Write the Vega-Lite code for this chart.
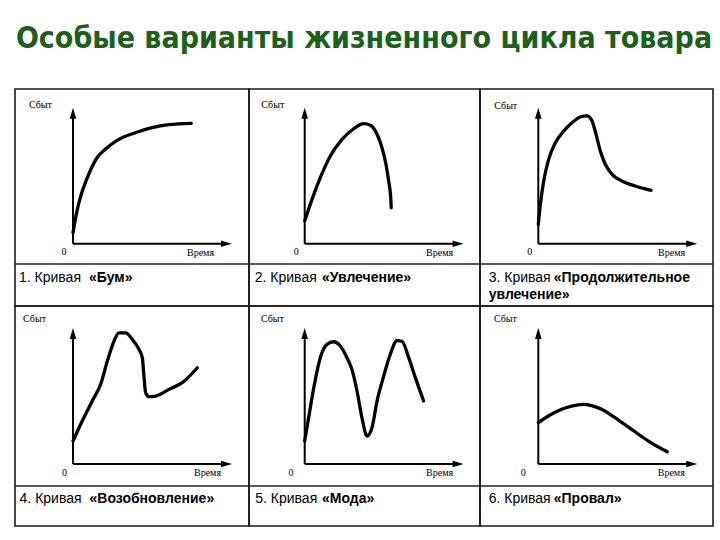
{
  "$schema": "https://vega.github.io/schema/vega-lite/v6.json",
  "padding": {"left": 13, "top": 24, "right": 9, "bottom": 15},
  "background": "#ffffff",
  "config": {"view": {"stroke": "#1a1a1a", "strokeWidth": 1.6}, "concat": {"spacing": 0}},
  "title": {"text": "Особые варианты жизненного цикла товара", "anchor": "middle", "font": "'Liberation Sans Narrow', 'DejaVu Sans Condensed', 'Liberation Sans', sans-serif", "fontSize": 30, "fontWeight": "bold", "color": "#1a621a", "offset": 34},
  "columns": 3,
  "spacing": 0,
  "bounds": "flush",
  "concat": [
    {
      "width": 234, "height": 217,
      "layer": [
        {"data": {"values": [{"t":0,"s":8.2},{"t":2.5,"s":24.1},{"t":5.2,"s":36.4},{"t":8.2,"s":46.2},{"t":15.1,"s":63.3},{"t":20.3,"s":69.5},{"t":27.7,"s":76.1},{"t":39.2,"s":81.7},{"t":49.7,"s":85.4},{"t":60.2,"s":87.6},{"t":74.4,"s":88.6}]},
         "mark": {"type": "line", "color": "#000", "strokeWidth": 3.3, "interpolate": "monotone", "strokeCap": "round"},
         "encoding": {"x": {"field": "t", "type": "quantitative", "scale": {"domain": [-36.48, 110.69], "nice": false, "zero": false}, "axis": null},
                      "y": {"field": "s", "type": "quantitative", "scale": {"domain": [-45.74, 113.82], "nice": false, "zero": false}, "axis": null}}},
        {"data": {"values": [{}]}, "mark": {"type": "rule", "color": "#000", "strokeWidth": 2}, "encoding": {"x": {"datum": 0}, "x2": {"datum": 96}, "y": {"datum": 0}}},
        {"data": {"values": [{}]}, "mark": {"type": "rule", "color": "#000", "strokeWidth": 2}, "encoding": {"x": {"datum": 0}, "y": {"datum": 0}, "y2": {"datum": 95}}},
        {"data": {"values": [{}]}, "mark": {"type": "point", "shape": "M0,-1L-0.6,1L0.6,1Z", "size": 121, "filled": true, "color": "#000", "opacity": 1}, "encoding": {"x": {"datum": 0}, "y": {"datum": 96}}},
        {"data": {"values": [{}]}, "mark": {"type": "point", "shape": "M1,0L-1,-0.6L-1,0.6Z", "size": 121, "filled": true, "color": "#000", "opacity": 1}, "encoding": {"x": {"datum": 96.5}, "y": {"datum": 0}}},
        {"data": {"values": [{}]}, "mark": {"type": "rule", "color": "#222", "strokeWidth": 1.6}, "encoding": {"y": {"datum": -14.85}}},
        {"data": {"values": [{}]}, "mark": {"type": "text", "text": "Сбыт", "font": "Liberation Serif", "fontSize": 10, "align": "left", "baseline": "middle", "color": "#000"}, "encoding": {"x": {"datum": -27.7}, "y": {"datum": 102}}},
        {"data": {"values": [{}]}, "mark": {"type": "text", "text": "0", "font": "Liberation Serif", "fontSize": 10, "align": "center", "baseline": "middle", "color": "#000"}, "encoding": {"x": {"datum": -5.7}, "y": {"datum": -6.2}}},
        {"data": {"values": [{}]}, "mark": {"type": "text", "text": "Время", "font": "Liberation Serif", "fontSize": 10, "align": "left", "baseline": "middle", "color": "#000"}, "encoding": {"x": {"datum": 71.7}, "y": {"datum": -6.8}}},
        {"data": {"values": [{}]}, "mark": {"type": "text", "text": "1. Кривая", "font": "Liberation Sans", "fontSize": 14, "align": "left", "baseline": "middle", "color": "#000"}, "encoding": {"x": {"datum": -33.96}, "y": {"datum": -24.9}}},
        {"data": {"values": [{}]}, "mark": {"type": "text", "text": "«Бум»", "font": "Liberation Sans", "fontSize": 14, "fontWeight": "bold", "align": "left", "baseline": "middle", "color": "#000"}, "encoding": {"x": {"datum": 10.1}, "y": {"datum": -24.9}}}
      ]
    },
    {
      "width": 231, "height": 217,
      "layer": [
        {"data": {"values": [{"t":0,"s":16.8},{"t":4.6,"s":32.7},{"t":9.8,"s":48.6},{"t":16.1,"s":64.6},{"t":23.5,"s":76.8},{"t":30.8,"s":84.6},{"t":37.1,"s":88.3},{"t":41.3,"s":87.1},{"t":45.5,"s":80.5},{"t":48.6,"s":70.7},{"t":51.1,"s":58.5},{"t":52.8,"s":46.2},{"t":54.1,"s":33.9},{"t":54.4,"s":26.5}]},
         "mark": {"type": "line", "color": "#000", "strokeWidth": 3.3, "interpolate": "monotone", "strokeCap": "round"},
         "encoding": {"x": {"field": "t", "type": "quantitative", "scale": {"domain": [-35.03, 110.25], "nice": false, "zero": false}, "axis": null},
                      "y": {"field": "s", "type": "quantitative", "scale": {"domain": [-45.74, 113.82], "nice": false, "zero": false}, "axis": null}}},
        {"data": {"values": [{}]}, "mark": {"type": "rule", "color": "#000", "strokeWidth": 2}, "encoding": {"x": {"datum": 0}, "x2": {"datum": 96}, "y": {"datum": 0}}},
        {"data": {"values": [{}]}, "mark": {"type": "rule", "color": "#000", "strokeWidth": 2}, "encoding": {"x": {"datum": 0}, "y": {"datum": 0}, "y2": {"datum": 95}}},
        {"data": {"values": [{}]}, "mark": {"type": "point", "shape": "M0,-1L-0.6,1L0.6,1Z", "size": 121, "filled": true, "color": "#000", "opacity": 1}, "encoding": {"x": {"datum": 0}, "y": {"datum": 96}}},
        {"data": {"values": [{}]}, "mark": {"type": "point", "shape": "M1,0L-1,-0.6L-1,0.6Z", "size": 121, "filled": true, "color": "#000", "opacity": 1}, "encoding": {"x": {"datum": 96.5}, "y": {"datum": 0}}},
        {"data": {"values": [{}]}, "mark": {"type": "rule", "color": "#222", "strokeWidth": 1.6}, "encoding": {"y": {"datum": -14.85}}},
        {"data": {"values": [{}]}, "mark": {"type": "text", "text": "Сбыт", "font": "Liberation Serif", "fontSize": 10, "align": "left", "baseline": "middle", "color": "#000"}, "encoding": {"x": {"datum": -27.3}, "y": {"datum": 101.8}}},
        {"data": {"values": [{}]}, "mark": {"type": "text", "text": "0", "font": "Liberation Serif", "fontSize": 10, "align": "center", "baseline": "middle", "color": "#000"}, "encoding": {"x": {"datum": -5.3}, "y": {"datum": -6.2}}},
        {"data": {"values": [{}]}, "mark": {"type": "text", "text": "Время", "font": "Liberation Serif", "fontSize": 10, "align": "left", "baseline": "middle", "color": "#000"}, "encoding": {"x": {"datum": 76.3}, "y": {"datum": -6.6}}},
        {"data": {"values": [{}]}, "mark": {"type": "text", "text": "2. Кривая", "font": "Liberation Sans", "fontSize": 14, "align": "left", "baseline": "middle", "color": "#000"}, "encoding": {"x": {"datum": -31.4}, "y": {"datum": -24.9}}},
        {"data": {"values": [{}]}, "mark": {"type": "text", "text": "«Увлечение»", "font": "Liberation Sans", "fontSize": 14, "fontWeight": "bold", "align": "left", "baseline": "middle", "color": "#000"}, "encoding": {"x": {"datum": 10.9}, "y": {"datum": -24.9}}}
      ]
    },
    {
      "width": 233, "height": 217,
      "layer": [
        {"data": {"values": [{"t":0,"s":14.3},{"t":1.3,"s":29.0},{"t":3.4,"s":46.2},{"t":6.5,"s":62.1},{"t":10.7,"s":74.3},{"t":16.0,"s":82.9},{"t":21.2,"s":89.0},{"t":26.4,"s":93.2},{"t":30.6,"s":94.0},{"t":33.8,"s":90.3},{"t":36.3,"s":80.5},{"t":39.0,"s":68.2},{"t":42.1,"s":58.5},{"t":46.4,"s":51.1},{"t":52.6,"s":46.2},{"t":61.0,"s":42.5},{"t":70.9,"s":39.3}]},
         "mark": {"type": "line", "color": "#000", "strokeWidth": 3.3, "interpolate": "monotone", "strokeCap": "round"},
         "encoding": {"x": {"field": "t", "type": "quantitative", "scale": {"domain": [-36.67, 109.87], "nice": false, "zero": false}, "axis": null},
                      "y": {"field": "s", "type": "quantitative", "scale": {"domain": [-45.74, 113.82], "nice": false, "zero": false}, "axis": null}}},
        {"data": {"values": [{}]}, "mark": {"type": "rule", "color": "#000", "strokeWidth": 2}, "encoding": {"x": {"datum": 0}, "x2": {"datum": 96}, "y": {"datum": 0}}},
        {"data": {"values": [{}]}, "mark": {"type": "rule", "color": "#000", "strokeWidth": 2}, "encoding": {"x": {"datum": 0}, "y": {"datum": 0}, "y2": {"datum": 95}}},
        {"data": {"values": [{}]}, "mark": {"type": "point", "shape": "M0,-1L-0.6,1L0.6,1Z", "size": 121, "filled": true, "color": "#000", "opacity": 1}, "encoding": {"x": {"datum": 0}, "y": {"datum": 96}}},
        {"data": {"values": [{}]}, "mark": {"type": "point", "shape": "M1,0L-1,-0.6L-1,0.6Z", "size": 121, "filled": true, "color": "#000", "opacity": 1}, "encoding": {"x": {"datum": 96.5}, "y": {"datum": 0}}},
        {"data": {"values": [{}]}, "mark": {"type": "rule", "color": "#222", "strokeWidth": 1.6}, "encoding": {"y": {"datum": -14.85}}},
        {"data": {"values": [{}]}, "mark": {"type": "text", "text": "Сбыт", "font": "Liberation Serif", "fontSize": 10, "align": "left", "baseline": "middle", "color": "#000"}, "encoding": {"x": {"datum": -27.7}, "y": {"datum": 101.3}}},
        {"data": {"values": [{}]}, "mark": {"type": "text", "text": "0", "font": "Liberation Serif", "fontSize": 10, "align": "center", "baseline": "middle", "color": "#000"}, "encoding": {"x": {"datum": -5.4}, "y": {"datum": -6.2}}},
        {"data": {"values": [{}]}, "mark": {"type": "text", "text": "Время", "font": "Liberation Serif", "fontSize": 10, "align": "left", "baseline": "middle", "color": "#000"}, "encoding": {"x": {"datum": 75.3}, "y": {"datum": -6.6}}},
        {"data": {"values": [{}]}, "mark": {"type": "text", "text": "3. Кривая", "font": "Liberation Sans", "fontSize": 14, "align": "left", "baseline": "middle", "color": "#000"}, "encoding": {"x": {"datum": -31.2}, "y": {"datum": -25.1}}},
        {"data": {"values": [{}]}, "mark": {"type": "text", "text": "«Продолжительное", "font": "Liberation Sans", "fontSize": 14, "fontWeight": "bold", "align": "left", "baseline": "middle", "color": "#000"}, "encoding": {"x": {"datum": 9.7}, "y": {"datum": -25.1}}},
        {"data": {"values": [{}]}, "mark": {"type": "text", "text": "увлечение»", "font": "Liberation Sans", "fontSize": 14, "fontWeight": "bold", "align": "left", "baseline": "middle", "color": "#000"}, "encoding": {"x": {"datum": -31.2}, "y": {"datum": -37.4}}}
      ]
    },
    {
      "width": 234, "height": 220,
      "layer": [
        {"data": {"values": [{"t":0,"s":16.9},{"t":5.8,"s":31.6},{"t":12.1,"s":46.3},{"t":17.4,"s":58.6},{"t":21.6,"s":75.7},{"t":25.8,"s":90.4},{"t":28.9,"s":96.5},{"t":33.1,"s":96.5},{"t":37.3,"s":91.7},{"t":41.5,"s":84.3},{"t":43.6,"s":78.2},{"t":44.7,"s":63.5},{"t":45.7,"s":52.4},{"t":47.8,"s":49.5},{"t":52.0,"s":50.0},{"t":60.4,"s":54.9},{"t":68.7,"s":59.8},{"t":78.2,"s":70.8}]},
         "mark": {"type": "line", "color": "#000", "strokeWidth": 3.3, "interpolate": "monotone", "strokeCap": "round"},
         "encoding": {"x": {"field": "t", "type": "quantitative", "scale": {"domain": [-36.48, 110.69], "nice": false, "zero": false}, "axis": null},
                      "y": {"field": "s", "type": "quantitative", "scale": {"domain": [-45.6, 116.2], "nice": false, "zero": false}, "axis": null}}},
        {"data": {"values": [{}]}, "mark": {"type": "rule", "color": "#000", "strokeWidth": 2}, "encoding": {"x": {"datum": 0}, "x2": {"datum": 96}, "y": {"datum": 0}}},
        {"data": {"values": [{}]}, "mark": {"type": "rule", "color": "#000", "strokeWidth": 2}, "encoding": {"x": {"datum": 0}, "y": {"datum": 0}, "y2": {"datum": 95}}},
        {"data": {"values": [{}]}, "mark": {"type": "point", "shape": "M0,-1L-0.6,1L0.6,1Z", "size": 121, "filled": true, "color": "#000", "opacity": 1}, "encoding": {"x": {"datum": 0}, "y": {"datum": 96}}},
        {"data": {"values": [{}]}, "mark": {"type": "point", "shape": "M1,0L-1,-0.6L-1,0.6Z", "size": 121, "filled": true, "color": "#000", "opacity": 1}, "encoding": {"x": {"datum": 96.5}, "y": {"datum": 0}}},
        {"data": {"values": [{}]}, "mark": {"type": "rule", "color": "#222", "strokeWidth": 1.6}, "encoding": {"y": {"datum": -16.2}}},
        {"data": {"values": [{}]}, "mark": {"type": "text", "text": "Сбыт", "font": "Liberation Serif", "fontSize": 10, "align": "left", "baseline": "middle", "color": "#000"}, "encoding": {"x": {"datum": -31.4}, "y": {"datum": 106.4}}},
        {"data": {"values": [{}]}, "mark": {"type": "text", "text": "0", "font": "Liberation Serif", "fontSize": 10, "align": "center", "baseline": "middle", "color": "#000"}, "encoding": {"x": {"datum": -5.3}, "y": {"datum": -6.4}}},
        {"data": {"values": [{}]}, "mark": {"type": "text", "text": "Время", "font": "Liberation Serif", "fontSize": 10, "align": "left", "baseline": "middle", "color": "#000"}, "encoding": {"x": {"datum": 76.1}, "y": {"datum": -6.6}}},
        {"data": {"values": [{}]}, "mark": {"type": "text", "text": "4. Кривая", "font": "Liberation Sans", "fontSize": 14, "align": "left", "baseline": "middle", "color": "#000"}, "encoding": {"x": {"datum": -33.6}, "y": {"datum": -26}}},
        {"data": {"values": [{}]}, "mark": {"type": "text", "text": "«Возобновление»", "font": "Liberation Sans", "fontSize": 14, "fontWeight": "bold", "align": "left", "baseline": "middle", "color": "#000"}, "encoding": {"x": {"datum": 10.4}, "y": {"datum": -26}}}
      ]
    },
    {
      "width": 231, "height": 220,
      "layer": [
        {"data": {"values": [{"t":0,"s":16.9},{"t":2.5,"s":34.1},{"t":5.7,"s":56.1},{"t":9.8,"s":78.2},{"t":14.0,"s":88.0},{"t":18.2,"s":89.9},{"t":22.4,"s":86.8},{"t":26.6,"s":78.2},{"t":29.7,"s":69.6},{"t":32.9,"s":53.7},{"t":36.0,"s":34.1},{"t":39.2,"s":20.6},{"t":42.3,"s":26.7},{"t":45.5,"s":46.3},{"t":49.7,"s":64.7},{"t":53.8,"s":80.5},{"t":58.1,"s":90.8},{"t":61.2,"s":90.3},{"t":65.4,"s":78.2},{"t":69.6,"s":63.5},{"t":74.8,"s":46.3}]},
         "mark": {"type": "line", "color": "#000", "strokeWidth": 3.3, "interpolate": "monotone", "strokeCap": "round"},
         "encoding": {"x": {"field": "t", "type": "quantitative", "scale": {"domain": [-35.03, 110.25], "nice": false, "zero": false}, "axis": null},
                      "y": {"field": "s", "type": "quantitative", "scale": {"domain": [-45.6, 116.2], "nice": false, "zero": false}, "axis": null}}},
        {"data": {"values": [{}]}, "mark": {"type": "rule", "color": "#000", "strokeWidth": 2}, "encoding": {"x": {"datum": 0}, "x2": {"datum": 96}, "y": {"datum": 0}}},
        {"data": {"values": [{}]}, "mark": {"type": "rule", "color": "#000", "strokeWidth": 2}, "encoding": {"x": {"datum": 0}, "y": {"datum": 0}, "y2": {"datum": 95}}},
        {"data": {"values": [{}]}, "mark": {"type": "point", "shape": "M0,-1L-0.6,1L0.6,1Z", "size": 121, "filled": true, "color": "#000", "opacity": 1}, "encoding": {"x": {"datum": 0}, "y": {"datum": 96}}},
        {"data": {"values": [{}]}, "mark": {"type": "point", "shape": "M1,0L-1,-0.6L-1,0.6Z", "size": 121, "filled": true, "color": "#000", "opacity": 1}, "encoding": {"x": {"datum": 96.5}, "y": {"datum": 0}}},
        {"data": {"values": [{}]}, "mark": {"type": "rule", "color": "#222", "strokeWidth": 1.6}, "encoding": {"y": {"datum": -16.2}}},
        {"data": {"values": [{}]}, "mark": {"type": "text", "text": "Сбыт", "font": "Liberation Serif", "fontSize": 10, "align": "left", "baseline": "middle", "color": "#000"}, "encoding": {"x": {"datum": -27.5}, "y": {"datum": 106.6}}},
        {"data": {"values": [{}]}, "mark": {"type": "text", "text": "0", "font": "Liberation Serif", "fontSize": 10, "align": "center", "baseline": "middle", "color": "#000"}, "encoding": {"x": {"datum": -8.6}, "y": {"datum": -6.4}}},
        {"data": {"values": [{}]}, "mark": {"type": "text", "text": "Время", "font": "Liberation Serif", "fontSize": 10, "align": "left", "baseline": "middle", "color": "#000"}, "encoding": {"x": {"datum": 76.3}, "y": {"datum": -6.8}}},
        {"data": {"values": [{}]}, "mark": {"type": "text", "text": "5. Кривая", "font": "Liberation Sans", "fontSize": 14, "align": "left", "baseline": "middle", "color": "#000"}, "encoding": {"x": {"datum": -31.1}, "y": {"datum": -26}}},
        {"data": {"values": [{}]}, "mark": {"type": "text", "text": "«Мода»", "font": "Liberation Sans", "fontSize": 14, "fontWeight": "bold", "align": "left", "baseline": "middle", "color": "#000"}, "encoding": {"x": {"datum": 10.9}, "y": {"datum": -26}}}
      ]
    },
    {
      "width": 233, "height": 220,
      "layer": [
        {"data": {"values": [{"t":0,"s":30.4},{"t":6.3,"s":35.3},{"t":14.7,"s":40.2},{"t":20.9,"s":42.6},{"t":28.3,"s":43.9},{"t":33.5,"s":43.0},{"t":39.8,"s":40.2},{"t":48.2,"s":34.1},{"t":58.7,"s":25.4},{"t":69.2,"s":16.9},{"t":81.1,"s":9.0}]},
         "mark": {"type": "line", "color": "#000", "strokeWidth": 3.3, "interpolate": "monotone", "strokeCap": "round"},
         "encoding": {"x": {"field": "t", "type": "quantitative", "scale": {"domain": [-36.67, 109.87], "nice": false, "zero": false}, "axis": null},
                      "y": {"field": "s", "type": "quantitative", "scale": {"domain": [-45.6, 116.2], "nice": false, "zero": false}, "axis": null}}},
        {"data": {"values": [{}]}, "mark": {"type": "rule", "color": "#000", "strokeWidth": 2}, "encoding": {"x": {"datum": 0}, "x2": {"datum": 96}, "y": {"datum": 0}}},
        {"data": {"values": [{}]}, "mark": {"type": "rule", "color": "#000", "strokeWidth": 2}, "encoding": {"x": {"datum": 0}, "y": {"datum": 0}, "y2": {"datum": 95}}},
        {"data": {"values": [{}]}, "mark": {"type": "point", "shape": "M0,-1L-0.6,1L0.6,1Z", "size": 121, "filled": true, "color": "#000", "opacity": 1}, "encoding": {"x": {"datum": 0}, "y": {"datum": 96}}},
        {"data": {"values": [{}]}, "mark": {"type": "point", "shape": "M1,0L-1,-0.6L-1,0.6Z", "size": 121, "filled": true, "color": "#000", "opacity": 1}, "encoding": {"x": {"datum": 96.5}, "y": {"datum": 0}}},
        {"data": {"values": [{}]}, "mark": {"type": "rule", "color": "#222", "strokeWidth": 1.6}, "encoding": {"y": {"datum": -16.2}}},
        {"data": {"values": [{}]}, "mark": {"type": "text", "text": "Сбыт", "font": "Liberation Serif", "fontSize": 10, "align": "left", "baseline": "middle", "color": "#000"}, "encoding": {"x": {"datum": -27.9}, "y": {"datum": 106.6}}},
        {"data": {"values": [{}]}, "mark": {"type": "text", "text": "0", "font": "Liberation Serif", "fontSize": 10, "align": "center", "baseline": "middle", "color": "#000"}, "encoding": {"x": {"datum": -9.4}, "y": {"datum": -6.4}}},
        {"data": {"values": [{}]}, "mark": {"type": "text", "text": "Время", "font": "Liberation Serif", "fontSize": 10, "align": "left", "baseline": "middle", "color": "#000"}, "encoding": {"x": {"datum": 75.1}, "y": {"datum": -6.8}}},
        {"data": {"values": [{}]}, "mark": {"type": "text", "text": "6. Кривая", "font": "Liberation Sans", "fontSize": 14, "align": "left", "baseline": "middle", "color": "#000"}, "encoding": {"x": {"datum": -31.2}, "y": {"datum": -26}}},
        {"data": {"values": [{}]}, "mark": {"type": "text", "text": "«Провал»", "font": "Liberation Sans", "fontSize": 14, "fontWeight": "bold", "align": "left", "baseline": "middle", "color": "#000"}, "encoding": {"x": {"datum": 9.7}, "y": {"datum": -26}}}
      ]
    }
  ]
}
